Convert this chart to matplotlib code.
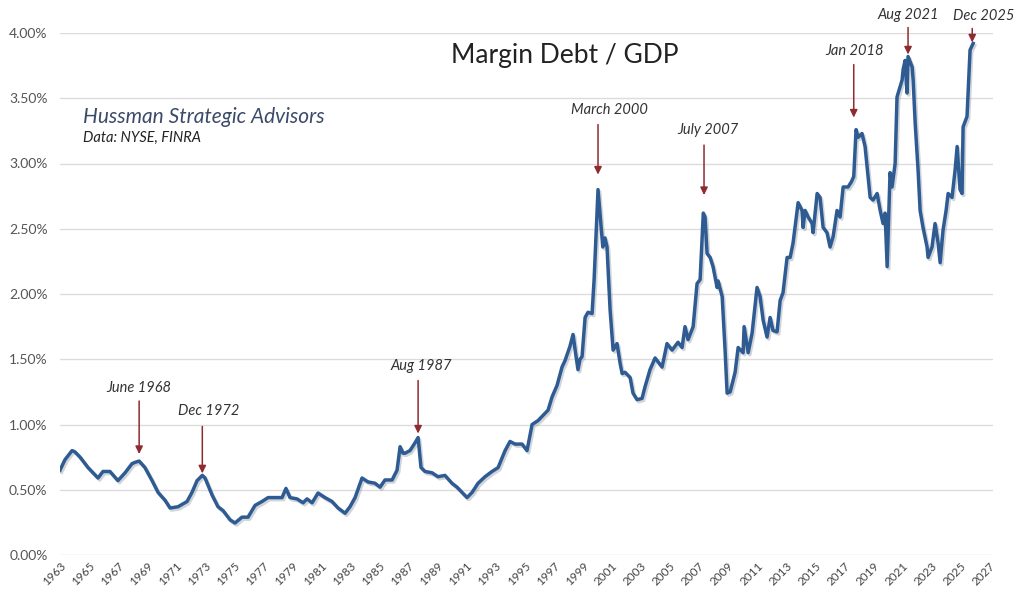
import numpy as np
import matplotlib
matplotlib.use("Agg")
import matplotlib.pyplot as plt
import matplotlib.patheffects as pe
from matplotlib.ticker import FuncFormatter, MultipleLocator

# Margin debt as a share of GDP (%), sampled along the monthly series
years = [
    1963.00, 1963.34, 1963.83, 1964.03, 1964.38, 1964.93, 1965.62, 1965.96, 1966.44, 1966.99,
    1967.48, 1967.96, 1968.17, 1968.45, 1968.85, 1969.34, 1969.75, 1970.23, 1970.58, 1971.13,
    1971.75, 1972.09, 1972.44, 1972.80, 1972.99, 1973.47, 1973.88, 1974.23, 1974.71, 1975.05,
    1975.53, 1975.95, 1976.43, 1976.91, 1977.33, 1977.81, 1978.29, 1978.56, 1978.84, 1979.32,
    1979.74, 1980.01, 1980.36, 1980.77, 1981.25, 1981.73, 1982.15, 1982.63, 1982.97, 1983.32,
    1983.80, 1984.21, 1984.69, 1985.04, 1985.38, 1985.87, 1986.21, 1986.42, 1986.62, 1986.76,
    1987.10, 1987.45, 1987.66, 1987.86, 1988.14, 1988.62, 1989.03, 1989.51, 1989.99, 1990.34,
    1990.69, 1991.03, 1991.38, 1991.79, 1992.27, 1992.75, 1993.17, 1993.65, 1993.99, 1994.34,
    1994.82, 1995.16, 1995.51, 1995.92, 1996.26, 1996.61, 1996.88, 1997.23, 1997.57, 1997.78,
    1998.12, 1998.33, 1998.50, 1998.67, 1998.81, 1998.95, 1999.16, 1999.36, 1999.64, 1999.78,
    1999.91, 2000.05, 2000.22, 2000.38, 2000.53, 2000.67, 2000.88, 2001.09, 2001.36, 2001.57,
    2001.71, 2001.91, 2002.26, 2002.46, 2002.74, 2003.08, 2003.29, 2003.63, 2003.98, 2004.46,
    2004.80, 2005.15, 2005.56, 2005.84, 2006.04, 2006.25, 2006.60, 2006.87, 2007.08, 2007.30,
    2007.42, 2007.56, 2007.77, 2007.97, 2008.25, 2008.32, 2008.60, 2008.80, 2008.94, 2009.15,
    2009.49, 2009.70, 2010.04, 2010.11, 2010.39, 2010.66, 2011.00, 2011.21, 2011.42, 2011.69,
    2011.90, 2012.10, 2012.38, 2012.59, 2012.79, 2013.07, 2013.28, 2013.48, 2013.83, 2014.10,
    2014.17, 2014.31, 2014.52, 2014.79, 2014.86, 2015.14, 2015.34, 2015.55, 2015.82, 2016.03,
    2016.24, 2016.51, 2016.72, 2016.93, 2017.27, 2017.50, 2017.66, 2017.82, 2017.96, 2018.23,
    2018.44, 2018.65, 2018.79, 2018.99, 2019.27, 2019.48, 2019.68, 2019.82, 2019.96, 2020.16,
    2020.30, 2020.51, 2020.64, 2020.99, 2021.06, 2021.20, 2021.33, 2021.40, 2021.68, 2021.75,
    2021.89, 2022.09, 2022.23, 2022.43, 2022.71, 2022.78, 2023.05, 2023.26, 2023.47, 2023.61,
    2023.81, 2024.02, 2024.16, 2024.43, 2024.64, 2024.78, 2024.98, 2025.12, 2025.19, 2025.46,
    2025.67, 2025.88,
]
margin_debt_gdp = [
    0.65, 0.73, 0.80, 0.79, 0.75, 0.67, 0.59, 0.64, 0.64, 0.57,
    0.63, 0.70, 0.71, 0.72, 0.67, 0.57, 0.48, 0.42, 0.36, 0.37,
    0.41, 0.48, 0.57, 0.61, 0.59, 0.46, 0.37, 0.34, 0.27, 0.245,
    0.29, 0.29, 0.38, 0.41, 0.44, 0.44, 0.44, 0.51, 0.44, 0.43,
    0.40, 0.43, 0.40, 0.475, 0.44, 0.41, 0.36, 0.32, 0.37, 0.44,
    0.59, 0.56, 0.55, 0.52, 0.575, 0.575, 0.65, 0.83, 0.78, 0.78,
    0.80, 0.86, 0.90, 0.67, 0.64, 0.63, 0.60, 0.61, 0.55, 0.52,
    0.48, 0.44, 0.48, 0.55, 0.60, 0.64, 0.67, 0.80, 0.87, 0.85,
    0.85, 0.80, 1.00, 1.03, 1.07, 1.11, 1.21, 1.30, 1.44, 1.49,
    1.60, 1.69, 1.55, 1.42, 1.50, 1.52, 1.82, 1.86, 1.85, 2.11,
    2.44, 2.80, 2.57, 2.36, 2.43, 2.36, 1.88, 1.57, 1.62, 1.47,
    1.39, 1.40, 1.36, 1.24, 1.19, 1.20, 1.29, 1.42, 1.51, 1.44,
    1.62, 1.57, 1.63, 1.59, 1.75, 1.65, 1.75, 2.08, 2.11, 2.62,
    2.59, 2.31, 2.28, 2.21, 2.05, 2.10, 1.98, 1.57, 1.24, 1.25,
    1.40, 1.59, 1.55, 1.75, 1.55, 1.70, 2.05, 1.98, 1.80, 1.67,
    1.82, 1.72, 1.71, 1.95, 2.01, 2.28, 2.28, 2.39, 2.70, 2.64,
    2.51, 2.64, 2.59, 2.54, 2.47, 2.77, 2.74, 2.51, 2.47, 2.36,
    2.44, 2.64, 2.59, 2.82, 2.82, 2.86, 2.90, 3.26, 3.20, 3.23,
    3.13, 2.90, 2.74, 2.72, 2.77, 2.64, 2.54, 2.62, 2.21, 2.93,
    2.82, 3.00, 3.51, 3.64, 3.72, 3.79, 3.54, 3.82, 3.74, 3.64,
    3.31, 2.95, 2.64, 2.51, 2.36, 2.28, 2.36, 2.54, 2.39, 2.24,
    2.49, 2.64, 2.77, 2.74, 2.95, 3.13, 2.80, 2.77, 3.28, 3.36,
    3.87, 3.92,
]

# Labelled peaks
peak_labels = ["June 1968", "Dec 1972", "Aug 1987", "March 2000",
               "July 2007", "Jan 2018", "Aug 2021", "Dec 2025"]
peak_years = [1968.45, 1972.80, 1987.66, 2000.05, 2007.35, 2017.66, 2021.40, 2025.82]

year_ticks = list(range(1963, 2028, 2))

# ---- style ----
LINE_COLOR = "#2f5b93"
ARROW_COLOR = "#8e2b31"
TEXT_COLOR = "#333333"
GRID_COLOR = "#dcdcdc"
FONT = ["Lato", "DejaVu Sans"]
plt.rcParams["font.family"] = FONT

W, H = 1017, 594
fig = plt.figure(figsize=(W / 100, H / 100), dpi=100)
ax = fig.add_axes([60 / W, 1 - 555 / H, 933 / W, 522 / H])

x = np.array(years)
y = np.array(margin_debt_gdp)

ax.plot(x, y, color=LINE_COLOR, lw=2.5, solid_joinstyle="round", zorder=3,
        path_effects=[pe.SimpleLineShadow(offset=(1.2, -1.5), shadow_color="#7d8796",
                                          alpha=0.35, rho=1.0),
                      pe.Normal()])

ax.set_xlim(1963, 2027.25)
ax.set_ylim(0, 4.0)
ax.yaxis.set_major_locator(MultipleLocator(0.5))
ax.yaxis.set_major_formatter(FuncFormatter(lambda v, _: f"{v:.2f}%"))
ax.set_xticks(year_ticks)
ax.set_xticklabels([str(t) for t in year_ticks], rotation=45, ha="right",
                   rotation_mode="anchor", fontsize=8.5, color="#444444")
ax.tick_params(axis="x", length=0, pad=4)
ax.tick_params(axis="y", length=0, pad=9, labelsize=10, labelcolor="#555555")
ax.grid(axis="y", color=GRID_COLOR, lw=1.0, zorder=0)
ax.grid(axis="x", visible=False)
for s in ax.spines.values():
    s.set_visible(False)

# Peak annotations: (text dx px, gap above peak px, arrow length px, text gap px)
PX2PT = 0.72
layout = {
    "June 1968": (0, 7, 53, 6),
    "Dec 1972": (6, 2, 47, 8),
    "Aug 1987": (3, 4, 53, 8),
    "March 2000": (11, 15, 50, 8),
    "July 2007": (4, 18, 50, 8),
    "Jan 2018": (1, 12, 53, 7),
    "Aug 2021": (0, 2, 27, 5),
    "Dec 2025": (11, 1, 14, 5),
}
for lab, yr in zip(peak_labels, peak_years):
    win = (x >= yr - 0.3) & (x <= yr + 0.3)
    peak = y[win].max()
    dx, gap, alen, tgap = layout[lab]
    ax.annotate("", xy=(yr, peak), xycoords="data",
                xytext=(0, gap + alen), textcoords="offset pixels",
                arrowprops=dict(arrowstyle="-|>,head_length=0.45,head_width=0.22",
                                color=ARROW_COLOR, lw=1.1, shrinkA=0,
                                shrinkB=gap * PX2PT),
                zorder=4, annotation_clip=False)
    ax.annotate(lab, xy=(yr, peak), xycoords="data",
                xytext=(dx, gap + alen + tgap), textcoords="offset pixels",
                ha="center", va="bottom", fontsize=10.5, style="italic",
                color=TEXT_COLOR, zorder=5, annotation_clip=False)

fig.text(565 / W, 1 - 55 / H, "Margin Debt / GDP", ha="center", va="center",
         fontsize=19, color="#222222")
fig.text(83 / W, 1 - 117 / H, "Hussman Strategic Advisors", ha="left", va="center",
         fontsize=15, style="italic", color="#3c4a6a")
fig.text(83 / W, 1 - 138 / H, "Data: NYSE, FINRA", ha="left", va="center",
         fontsize=10.5, style="italic", color="#222222")

fig.savefig("out.png", dpi=100, facecolor="white")
